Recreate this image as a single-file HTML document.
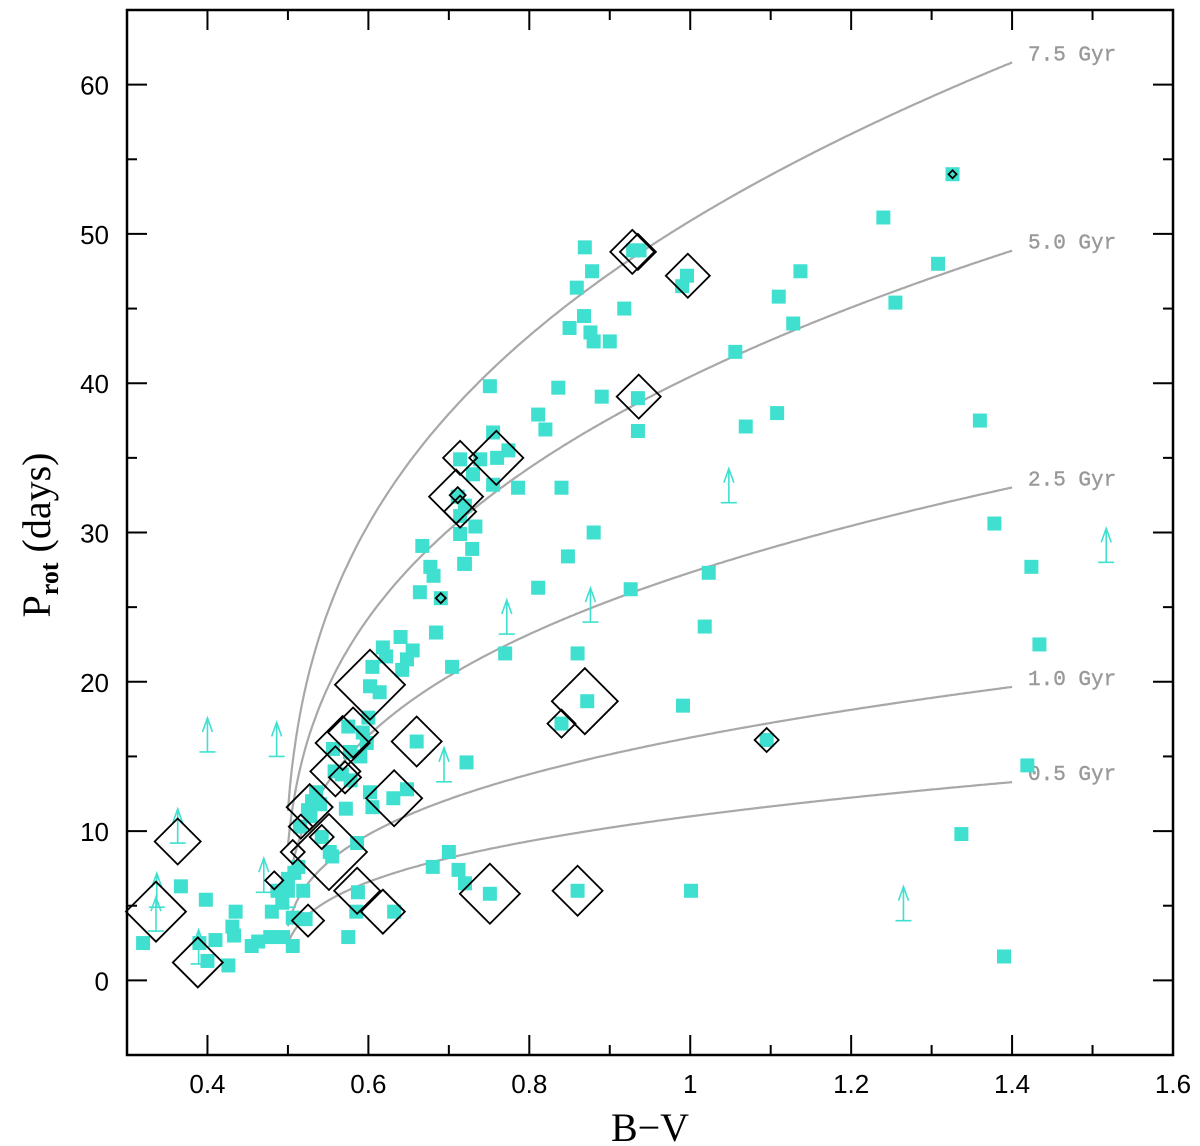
<!DOCTYPE html>
<html><head><meta charset="utf-8"><style>
body{margin:0;background:#fff}
svg{display:block}
</style></head><body>
<svg id="chart" width="1200" height="1146" xmlns="http://www.w3.org/2000/svg">
<g id="curves"></g>
<g id="marks"></g>
<g id="axes"></g>
</svg>
<script>
const ages = [7.5, 5.0, 2.5, 1.0, 0.5];
const ageLabels = ["7.5 Gyr","5.0 Gyr","2.5 Gyr","1.0 Gyr","0.5 Gyr"];
const xTicks = [0.4,0.6,0.8,1,1.2,1.4,1.6];
const xTickLabels = ["0.4","0.6","0.8","1","1.2","1.4","1.6"];
const yTicks = [0,10,20,30,40,50,60];
const yTickLabels = ["0","10","20","30","40","50","60"];
// squares: B-V
const sqBV = [0.32,0.367,0.398,0.39,0.40,0.41,0.426,0.431,0.435,0.433,0.455,0.463,0.478,0.494,0.506,0.506,0.48,0.493,0.487,0.50,0.50,0.508,0.519,0.522,0.575,
0.586,0.552,0.555,0.542,0.515,0.513,0.525,0.53,0.535,0.54,0.528,0.572,0.602,0.605,0.631,0.648,0.558,0.567,0.578,0.556,0.577,0.59,0.575,0.593,0.598,0.60,0.66,0.722,0.602,0.614,0.605,0.618,0.622,0.64,0.648,0.642,0.655,0.704,0.684,0.664,0.677,0.681,0.72,0.77,0.69,
0.869,0.878,0.859,0.868,0.85,0.876,0.88,0.9,0.918,0.929,0.937,0.996,0.99,1.056,0.751,0.836,0.89,0.935,0.935,1.069,0.811,0.82,0.755,0.76,0.774,0.714,0.739,0.73,0.786,0.84,0.755,0.711,0.72,0.714,0.733,0.714,0.729,0.667,0.719,0.848,0.88,0.811,0.926,1.023,
1.11,1.128,1.137,1.108,1.24,1.255,1.308,1.326,1.36,1.378,1.424,1.434,1.419,1.337,1.39,1.018,0.991,1.001,0.86,0.872,0.84,1.095,0.86,0.751,0.70,0.712,0.72,0.68,0.632,0.585,0.587];
// squares: Prot (days)
const sqP = [2.5,6.3,5.4,2.5,1.3,2.7,1.0,3.6,4.6,3.0,2.3,2.6,2.9,2.9,2.3,4.2,4.6,5.2,6.0,6.0,6.8,7.2,6.0,4.1,2.9,
9.2,8.6,8.3,9.6,10.3,7.6,11.4,12.0,12.6,11.8,11.0,11.5,12.6,11.6,12.2,12.8,14.0,13.8,13.4,15.5,15.3,15.0,17.0,16.6,15.9,17.6,16.0,14.6,19.7,19.3,21.0,22.3,21.7,23.0,21.5,20.8,22.1,21.0,23.3,26.0,27.7,27.1,27.9,21.9,25.6,
49.1,47.5,46.4,44.5,43.7,43.4,42.8,42.8,45.0,48.9,48.9,47.2,46.5,42.1,39.8,39.7,39.1,39.0,36.8,37.1,37.9,36.9,36.7,35.0,35.5,34.9,34.9,33.9,33.0,33.0,33.2,32.4,31.8,31.1,30.4,29.9,28.9,29.1,27.9,28.4,30.0,26.3,26.2,27.3,
45.8,44.0,47.5,38.0,51.1,45.4,48.0,54.0,37.5,30.6,27.7,22.5,14.4,9.8,1.6,23.7,18.4,6.0,21.9,18.7,17.2,16.1,6.0,5.8,8.6,7.4,6.5,7.6,4.6,4.6,5.9];
// diamonds: B-V, Prot, symbol size (relative)
const dmBV = [0.336,0.363,0.388,0.483,0.525,0.506,0.516,0.542,0.551,0.527,0.586,0.618,0.559,0.571,0.581,0.568,0.602,0.66,0.632,0.928,0.935,0.997,0.936,0.714,0.759,0.709,0.714,0.869,0.84,1.095,0.86,0.751,1.326,0.69,0.711];
const dmP = [4.6,9.3,1.2,6.7,4.0,8.6,10.3,9.6,8.6,11.6,6.0,4.6,14.0,13.6,16.6,15.9,19.8,16.0,12.2,48.8,48.8,47.2,39.1,35.0,35.0,32.4,31.4,18.7,17.2,16.1,6.0,5.8,54.0,25.6,32.5];
const dmSize = [30,23,25,9,16,12,12,12,38,23,23,22,25,16,25,27,35,25,28,22,18,22,22,17,27,27,16,33,14,12,25,30,4,5,8];
// lower-limit arrows: B-V, Prot at base
const arBV = [0.40,0.486,0.363,0.336,0.337,0.389,0.47,0.50,0.694,0.772,0.876,1.048,1.265,1.517];
const arP = [15.3,15.0,9.2,3.3,4.9,1.1,5.9,4.9,13.3,23.2,24.0,32.0,4.0,28.0];

const NS="http://www.w3.org/2000/svg";
const X0=127,X1=1173,Y0=10,Y1=1055;
function xs(v){return X0+(v-0.3)/1.3*(X1-X0);}
function ys(v){return Y1-(v+5)/70*(Y1-Y0);}
function mk(tag,attrs,parent){const e=document.createElementNS(NS,tag);for(const k in attrs)e.setAttribute(k,attrs[k]);parent.appendChild(e);return e;}
const curves=document.getElementById('curves'),marks=document.getElementById('marks'),axes=document.getElementById('axes');
// gyrochrones (Mamajek & Hillenbrand 2008)
ages.forEach((a,i)=>{
  let d="";
  for(let b=0.5;b<=1.4001;b+=0.0025){
    const p=0.407*Math.pow(b-0.495,0.325)*Math.pow(a*1000,0.566);
    d+=(d?"L":"M")+xs(b).toFixed(1)+","+ys(p).toFixed(1);
  }
  const c=mk('path',{d:d,fill:'none',stroke:'#a8a8a8','stroke-width':2.2},curves);
  
  
  const pEnd=0.407*Math.pow(0.905,0.325)*Math.pow(a*1000,0.566);
  const t=mk('text',{x:1028,y:ys(pEnd)-2,'font-family':'Liberation Mono, monospace','font-size':21,fill:'#999',stroke:'#999','stroke-width':0.4},curves);
  t.textContent=ageLabels[i];
  
  
});
// squares
sqBV.forEach((b,i)=>{
  const r=mk('rect',{x:xs(b)-7,y:ys(sqP[i])-7,width:14,height:14,fill:'#40e0d0'},marks);
  
  
});
// arrows
arBV.forEach((b,i)=>{
  const x=xs(b),y=ys(arP[i]);
  const g=mk('g',{stroke:'#40e0d0','stroke-width':1.6,fill:'none'},marks);
  
  
  mk('line',{x1:x-8,y1:y,x2:x+8,y2:y},g);
  mk('line',{x1:x,y1:y,x2:x,y2:y-34},g);
  mk('path',{d:`M${x-5},${y-20}L${x},${y-34}L${x+5},${y-20}`},g);
});
// diamonds
dmBV.forEach((b,i)=>{
  const x=xs(b),y=ys(dmP[i]),s=dmSize[i];
  const p=mk('path',{d:`M${x},${y-s}L${x+s},${y}L${x},${y+s}L${x-s},${y}Z`,fill:'none',stroke:'#000','stroke-width':1.8},marks);
  
  
});
// frame
const fr=mk('rect',{x:X0,y:Y0,width:X1-X0,height:Y1-Y0,fill:'none',stroke:'#000','stroke-width':2.5},axes);


// x ticks
for(let k=3;k<=16;k++){
  const v=k/10,x=xs(v),L=(k%2==0)?20:10;
  mk('line',{x1:x,y1:Y1,x2:x,y2:Y1-L,stroke:'#000','stroke-width':2},axes);
  mk('line',{x1:x,y1:Y0,x2:x,y2:Y0+L,stroke:'#000','stroke-width':2},axes);
}
xTicks.forEach((v,i)=>{
  const t=mk('text',{x:xs(v),y:1093,'text-anchor':'middle','font-family':'Liberation Sans, sans-serif','font-size':26,fill:'#000'},axes);
  t.textContent=xTickLabels[i];
  
  
});
for(let v=-5;v<=65;v+=5){
  const y=ys(v),L=(v%10==0)?20:10;
  mk('line',{x1:X0,y1:y,x2:X0+L,y2:y,stroke:'#000','stroke-width':2},axes);
  mk('line',{x1:X1,y1:y,x2:X1-L,y2:y,stroke:'#000','stroke-width':2},axes);
}
yTicks.forEach((v,i)=>{
  const t=mk('text',{x:109,y:ys(v)+10,'text-anchor':'end','font-family':'Liberation Sans, sans-serif','font-size':26,fill:'#000'},axes);
  t.textContent=yTickLabels[i];
  
  
});
</script>
<svg style="position:absolute;left:0;top:0" width="1200" height="1146" xmlns="http://www.w3.org/2000/svg">
<text x="650" y="1141" text-anchor="middle" font-family="Liberation Serif, serif" font-size="40">B−V</text>
<text transform="translate(50,535) rotate(-90)" text-anchor="middle" font-family="Liberation Serif, serif" font-size="40">P<tspan font-size="26" font-weight="bold" dy="8">rot</tspan><tspan dy="-8"> (days)</tspan></text>
</svg>
</body></html>
